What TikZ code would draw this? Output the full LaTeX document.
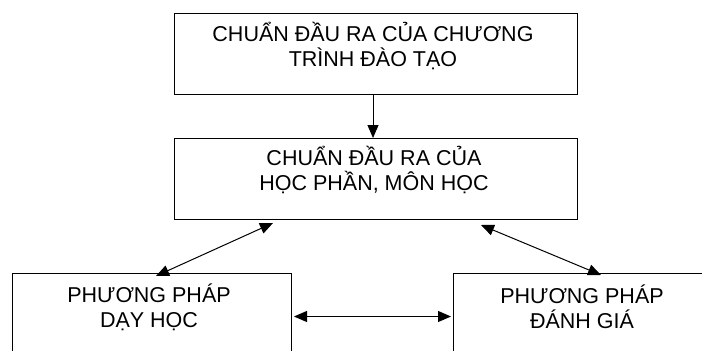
\documentclass[tikz,border=0pt]{standalone}
\usepackage{fontspec}
\setmainfont{Liberation Sans}
\usetikzlibrary{arrows.meta}

\begin{document}
\begin{tikzpicture}[x=1pt,y=-1pt,>={Triangle[length=13pt,width=11pt]},
    box/.style={draw,line width=1pt,minimum width=403pt,minimum height=81pt,inner sep=0pt,anchor=north west},
    txt/.style={font=\fontsize{21.5}{25}\selectfont,align=center,inner sep=0pt},
    arr/.style={line width=1pt}]

      \useasboundingbox (0,0) rectangle (702,351);
      \clip (0,0) rectangle (702,351);

      % The programme outcomes box.
      \node[box] (cdrct) at (174,13) {};
      \node[txt] (tcdrct) at (373,46) {CHUẨN ĐẦU RA CỦA CHƯƠNG\\TRÌNH ĐÀO TẠO};

      % The course outcomes box.
      \node[box] (cdrhp) at (174,138) {};
      \node[txt] (tcdrhp) at (374,170) {CHUẨN ĐẦU RA CỦA\\HỌC PHẦN, MÔN HỌC};

      % The teaching box (runs off the bottom).
      \node[box,minimum width=279pt,minimum height=86pt] (ppdh) at (12,273) {};
      \node[txt] (tppdh) at (149,307) {PHƯƠNG PHÁP\\DẠY HỌC};

      % The assessment box (runs off the bottom and the right).
      \node[box,minimum width=279pt,minimum height=86pt] (ppdg) at (453,273) {};
      \node[txt] (tppdg) at (582,307) {PHƯƠNG PHÁP\\ĐÁNH GIÁ};

      % The arrows.
      \draw[arr,->] ([xshift=-3pt]cdrct.south) -- ([xshift=-3pt]cdrhp.north);
      \draw[arr,<->] ([xshift=99pt,yshift=-3pt]cdrhp.south west) -- ([xshift=4pt,yshift=-3pt]ppdh.north);
      \draw[arr,<->] ([xshift=-97pt,yshift=-5pt]cdrhp.south east) -- ([xshift=8pt,yshift=-2pt]ppdg.north);
      \draw[arr,<->] ([xshift=2pt]ppdh.east) -- ([xshift=-2pt]ppdg.west);

    \end{tikzpicture}
\end{document}
